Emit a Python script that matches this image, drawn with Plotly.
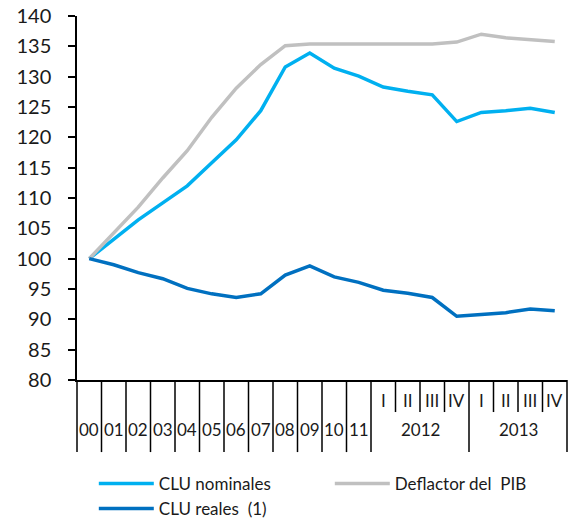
import plotly.graph_objects as go

years = ["00", "01", "02", "03", "04", "05", "06", "07", "08", "09", "10", "11"]
quarters = ["I", "II", "III", "IV", "I", "II", "III", "IV"]
quarter_years = ["2012", "2013"]

clu_nominales = [100.0, 103.2, 106.4, 109.2, 112.0, 115.8, 119.6, 124.4, 131.6, 133.9,
                 131.4, 130.1, 128.3, 127.6, 127.0, 122.6, 124.1, 124.4, 124.8, 124.1]
deflactor_pib = [100.0, 104.2, 108.5, 113.3, 117.8, 123.3, 128.1, 132.0, 135.1, 135.4,
                 135.4, 135.4, 135.4, 135.4, 135.4, 135.7, 137.0, 136.4, 136.1, 135.8]
clu_reales = [100.0, 99.0, 97.7, 96.7, 95.1, 94.2, 93.6, 94.2, 97.3, 98.8,
              97.0, 96.1, 94.8, 94.3, 93.6, 90.5, 90.8, 91.1, 91.7, 91.4]

n = len(clu_nominales)
x = list(range(n))

FONT = "Lato"
TXT = "#1a1a1a"

fig = go.Figure()
fig.add_trace(go.Scatter(x=x, y=clu_nominales, mode="lines", name="CLU nominales",
                         line=dict(color="#00B0F0", width=3.5)))
fig.add_trace(go.Scatter(x=x, y=deflactor_pib, mode="lines", name="Deflactor del  PIB",
                         line=dict(color="#C0C0C0", width=3.5)))
fig.add_trace(go.Scatter(x=x, y=clu_reales, mode="lines", name="CLU reales  (1)",
                         line=dict(color="#0070C0", width=3.5)))

shapes = []
n_years = len(years)
for k in range(n + 1):
    long_line = k <= n_years or (k - n_years) % 4 == 0
    y1 = -0.198 if long_line else -0.088
    shapes.append(dict(type="line", xref="paper", yref="paper",
                       x0=k / n, x1=k / n, y0=0, y1=y1,
                       line=dict(color="black", width=1.5)))

annotations = []
for i, lab in enumerate(years):
    annotations.append(dict(x=i, y=-0.137, xref="x", yref="paper", text=lab,
                            showarrow=False, font=dict(size=17, color=TXT, family=FONT),
                            xanchor="center", yanchor="middle"))
for j, lab in enumerate(quarters):
    annotations.append(dict(x=n_years + j, y=-0.055, xref="x", yref="paper", text=lab,
                            showarrow=False, font=dict(size=17, color=TXT, family=FONT),
                            xanchor="center", yanchor="middle"))
for j, lab in enumerate(quarter_years):
    annotations.append(dict(x=n_years + 4 * j + 1.5, y=-0.137, xref="x", yref="paper", text=lab,
                            showarrow=False, font=dict(size=17, color=TXT, family=FONT),
                            xanchor="center", yanchor="middle"))

fig.update_layout(
    width=572, height=518,
    margin=dict(l=77, r=5, t=16, b=138, autoexpand=False),
    paper_bgcolor="white", plot_bgcolor="white",
    font=dict(family=FONT, color=TXT, size=17),
    xaxis=dict(range=[-0.5, n - 0.5], showgrid=False, zeroline=False,
               showline=True, linecolor="black", linewidth=1.5,
               showticklabels=False, ticks=""),
    yaxis=dict(range=[80, 140], dtick=5, showgrid=False, zeroline=False,
               showline=True, linecolor="black", linewidth=1.5,
               ticks="outside", ticklen=7, tickwidth=1.5, tickcolor="black",
               tickfont=dict(size=20, color=TXT, family=FONT), ticklabelstandoff=13),
    shapes=shapes,
    annotations=annotations,
    showlegend=True,
    legend=dict(orientation="h", xref="container", yref="container",
                x=0.164, xanchor="left", y=0.1007, yanchor="top",
                entrywidth=166, entrywidthmode="pixels", itemwidth=55,
                font=dict(size=17, color=TXT, family=FONT), tracegroupgap=0,
                bgcolor="rgba(0,0,0,0)"),
)

fig.write_html("out.html", config={"displayModeBar": False},
               post_script="document.body.style.margin='0';")
